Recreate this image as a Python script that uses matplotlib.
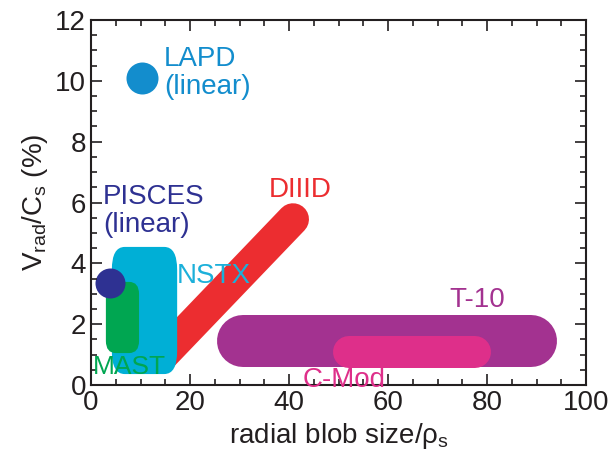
import matplotlib
matplotlib.use("Agg")
import matplotlib.pyplot as plt
from matplotlib.patches import FancyBboxPatch
from matplotlib.ticker import MultipleLocator

plt.rcParams['font.family'] = ['Liberation Sans', 'DejaVu Sans']
plt.rcParams['mathtext.fontset'] = 'custom'
plt.rcParams['mathtext.rm'] = 'Liberation Sans'
plt.rcParams['mathtext.it'] = 'Liberation Sans:italic'

# experiments: blob size range (x) and radial velocity range (y)
t10_x = [30.7, 88.9]
t10_y = [1.45, 1.45]
cmod_x = [52.1, 77.6]
cmod_y = [1.09, 1.09]
diiid_x = [14.0, 40.8]
diiid_y = [0.9, 5.45]
nstx_box = [4.2, 17.4, 0.36, 4.54]   # x0, x1, y0, y1
mast_box = [3.0, 9.7, 1.05, 3.39]
pisces_pt = [3.8, 3.35]
lapd_pt = [10.3, 10.1]

names = ["LAPD\n(linear)", "PISCES\n(linear)", "DIIID", "NSTX", "MAST", "T-10", "C-Mod"]
name_xy = [(14.7, 10.26), (2.4, 5.72), (42.2, 6.4), (17.3, 3.59), (7.7, 0.59), (78.0, 2.8), (51.1, 0.16)]
name_ha = ['left', 'left', 'center', 'left', 'center', 'center', 'center']
name_fs = [20, 20, 20, 20, 19, 20, 20]

c_lapd = '#138dcd'
c_pisces = '#2e3192'
c_mast = '#00a651'
c_nstx = '#00afd6'
c_diiid = '#ec2d30'
c_t10 = '#a33290'
c_cmod = '#de2f8a'
name_col = [c_lapd, c_pisces, c_diiid, '#1cb0da', c_mast, c_t10, c_cmod]

fig = plt.figure(figsize=(6.13, 4.59), dpi=100)
ax = fig.add_axes([0.1485, 0.1612, 0.8075, 0.7952])
ax.set_xlim(0, 100)
ax.set_ylim(0, 12)

px = 72 / 100  # points per pixel
ax.plot(t10_x, t10_y, color=c_t10, lw=52 * px, solid_capstyle='round', zorder=1.0)
ax.plot(cmod_x, cmod_y, color=c_cmod, lw=32 * px, solid_capstyle='round', zorder=1.1)
ax.plot(diiid_x, diiid_y, color=c_diiid, lw=32 * px, solid_capstyle='round', zorder=1.2)

# rounded boxes: corner size in x units, stretched vertically by the aspect
for box, col, r, asp, z in [(nstx_box, c_nstx, 2.6, 0.29, 1.3),
                            (mast_box, c_mast, 2.0, 0.2, 1.4)]:
    x0, x1, y0, y1 = box
    p = FancyBboxPatch((x0, y0), x1 - x0, y1 - y0,
                       boxstyle="round,pad=0,rounding_size=%g" % r,
                       mutation_aspect=asp, fc=col, ec='none', zorder=z)
    ax.add_patch(p)

ax.plot(*pisces_pt, 'o', color=c_pisces, ms=30 * px, mec='none', zorder=1.5)
ax.plot(*lapd_pt, 'o', color=c_lapd, ms=32 * px, mec='none', zorder=1.5)

for s, xy, ha, col, fs in zip(names, name_xy, name_ha, name_col, name_fs):
    ax.text(xy[0], xy[1], s, color=col, fontsize=fs, ha=ha, va='center',
            linespacing=1.1, zorder=3)

ax.xaxis.set_major_locator(MultipleLocator(20))
ax.xaxis.set_minor_locator(MultipleLocator(5))
ax.yaxis.set_major_locator(MultipleLocator(2))
ax.yaxis.set_minor_locator(MultipleLocator(0.5))
ax.tick_params(which='both', direction='in', top=True, right=True,
               width=1.2, colors='#231f20', labelsize=20)
ax.tick_params(which='major', length=8)
ax.tick_params(which='minor', length=4.5)
for sp in ax.spines.values():
    sp.set_linewidth(1.5)
    sp.set_color('#231f20')

ax.set_xlabel(r'radial blob size/ρ$_\mathregular{s}$', fontsize=20, color='#231f20')
ax.set_ylabel(r'V$_\mathregular{rad}$/C$_\mathregular{s}$ (%)', fontsize=20, color='#231f20')

fig.savefig('out.png', dpi=100)
